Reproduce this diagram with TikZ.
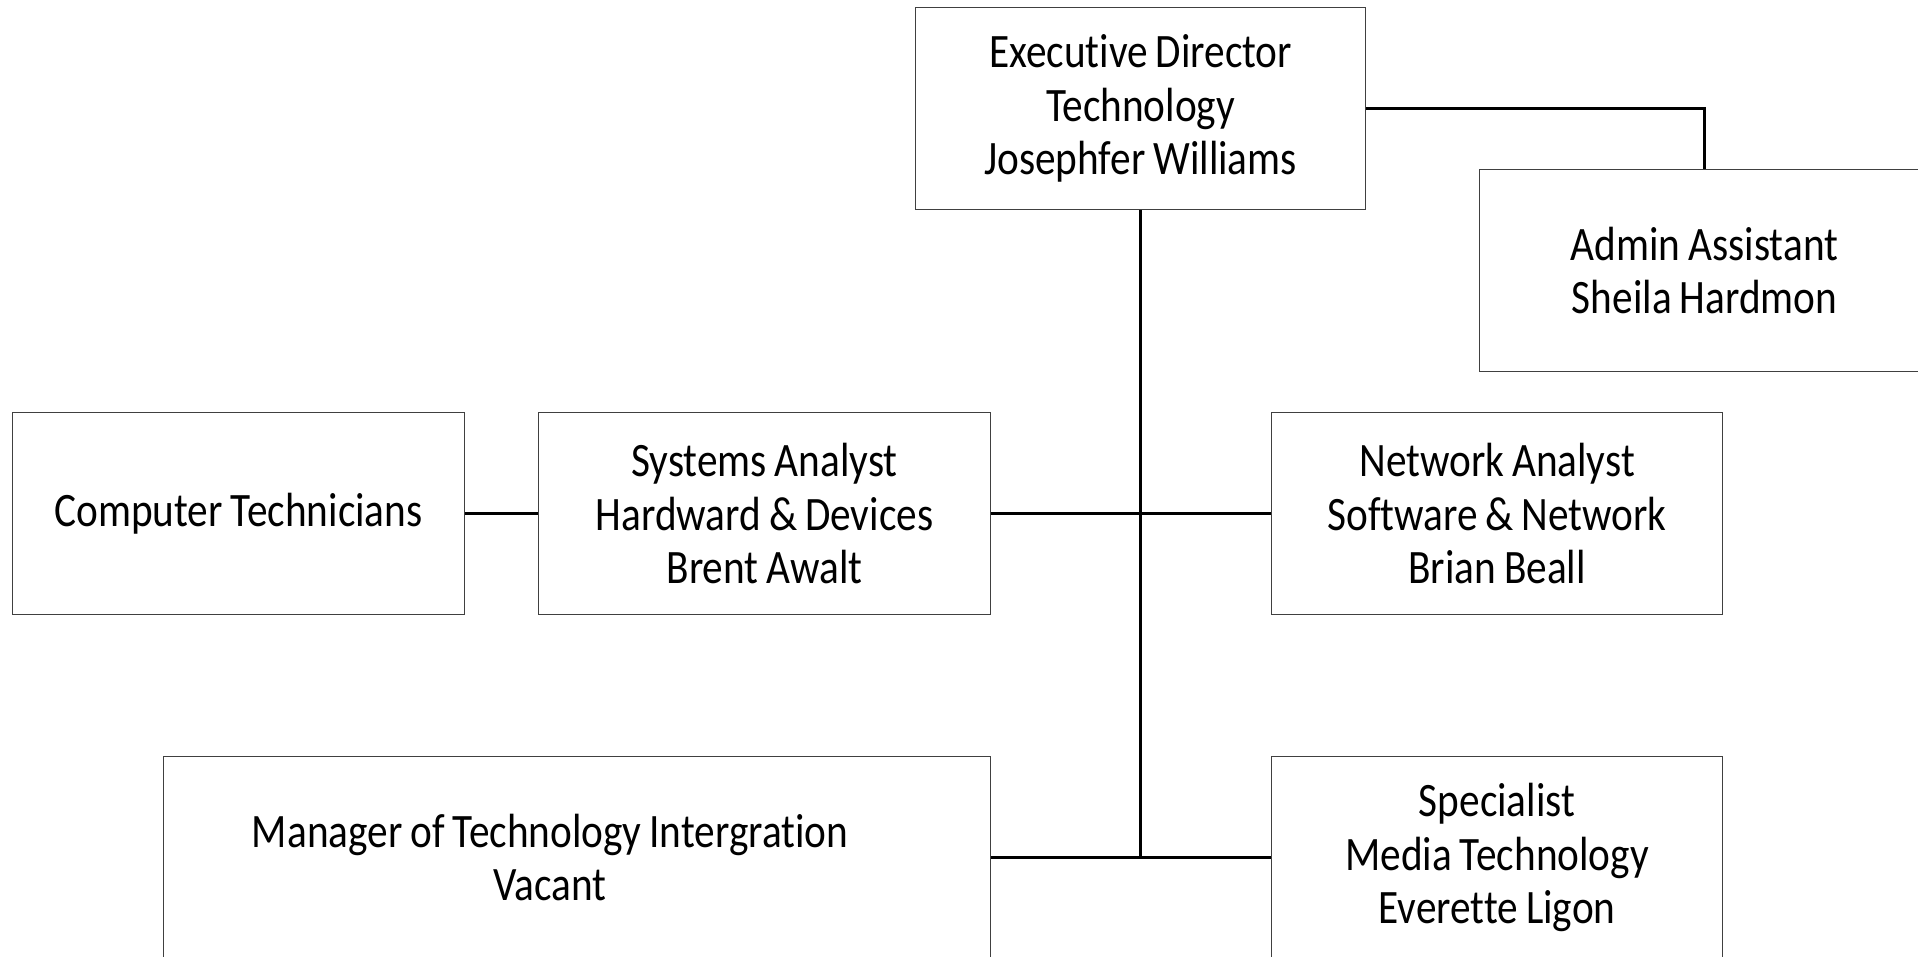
\documentclass[tikz,border=0pt]{standalone}
\usepackage{fontspec}
\setmainfont{Carlito}[FakeStretch=0.86, WordSpace=0.85, Ligatures={NoCommon}]
\begin{document}
\begin{tikzpicture}[x=1pt,y=-1pt,
  box/.style={draw=black!75, line width=1.1pt, fill=white, inner sep=0pt,
    minimum width=450pt, minimum height=202pt, anchor=north west,
    align=center, font=\fontsize{48}{53.5}\selectfont},
  txt/.style={inner sep=0pt, align=center, font=\fontsize{48}{53.5}\selectfont},
  link/.style={draw=black, line width=3pt}]
  \useasboundingbox (0,0) rectangle (1918,956);
  \clip (0,0) rectangle (1918,956);

  % top level and the assistant beside it
  \node[box] (exec)  at (915,7)   {Executive Director\\Technology\\Josephfer Williams};
  \node[box] (admin) at (1479,169) {Admin Assistant\\Sheila Hardmon};

  % middle row
  \node[box, minimum width=452pt] (tech) at (12,412)  {Computer Technicians};
  \node[box, minimum width=452pt] (sys)  at (538,412) {Systems Analyst\\Hardward \& Devices\\Brent Awalt};
  \node[box, minimum width=451pt] (net)  at (1271,412) {Network Analyst\\Software \& Network\\Brian Beall};

  % bottom row
  \node[box, minimum width=827pt] (mgr)  at (163,756) {};
  \node[txt] (mgrtext) at ([xshift=-27pt]mgr.center) {Manager of Technology Intergration\\Vacant};
  \node[box, minimum width=451pt] (spec) at (1271,756) {Specialist\\Media Technology\\Everette Ligon};

  % reporting lines
  \coordinate (trunk) at (exec.south |- spec.west);
  \draw[link] (exec.east) -| (admin.north);
  \draw[link] (exec.south) -- (trunk);
  \draw[link] (tech.east) -- (sys.west);
  \draw[link] (sys.east) -- (net.west);
  \draw[link] (mgr.east) -- (spec.west);
\end{tikzpicture}
\end{document}
